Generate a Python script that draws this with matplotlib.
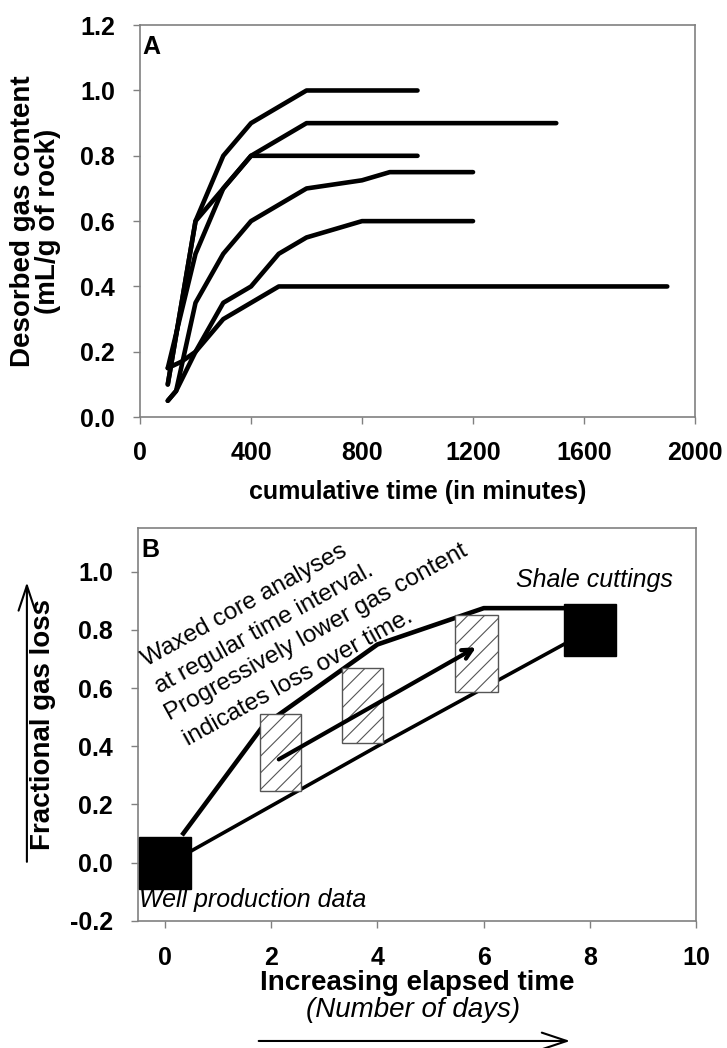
import matplotlib
matplotlib.use("Agg")
import matplotlib.pyplot as plt
from matplotlib.patches import Rectangle, FancyArrowPatch
from matplotlib import font_manager

plt.rcParams['font.family'] = ['Liberation Sans', 'DejaVu Sans']
plt.rcParams['hatch.linewidth'] = 0.8

_names = {f.name for f in font_manager.fontManager.ttflist}
NARROW = 'Liberation Sans Narrow' if 'Liberation Sans Narrow' in _names else 'Liberation Sans'

# ---------------- Panel A data ----------------
a_x1 = [100, 200, 300, 400, 600, 1000]
a_y1 = [0.10, 0.60, 0.80, 0.90, 1.00, 1.00]
a_x2 = [100, 200, 300, 400, 600, 1500]
a_y2 = [0.15, 0.50, 0.70, 0.80, 0.90, 0.90]
a_x3 = [100, 200, 300, 400, 1000]
a_y3 = [0.10, 0.60, 0.70, 0.80, 0.80]
a_x4 = [100, 130, 200, 300, 400, 600, 800, 900, 1200]
a_y4 = [0.05, 0.08, 0.35, 0.50, 0.60, 0.70, 0.725, 0.75, 0.75]
a_x5 = [100, 130, 200, 300, 400, 500, 600, 800, 1200]
a_y5 = [0.05, 0.08, 0.20, 0.35, 0.40, 0.50, 0.55, 0.60, 0.60]
a_x6 = [100, 150, 200, 300, 400, 500, 1900]
a_y6 = [0.15, 0.17, 0.20, 0.30, 0.35, 0.40, 0.40]
a_xticks = [0, 400, 800, 1200, 1600, 2000]
a_yticks = [0.0, 0.2, 0.4, 0.6, 0.8, 1.0, 1.2]

# ---------------- Panel B data ----------------
b_sq_x = [0, 8]
b_sq_y = [0.0, 0.80]
b_upper_x = [0.35, 1.85, 4.0, 6.0, 7.5]
b_upper_y = [0.10, 0.47, 0.75, 0.875, 0.875]
b_lower_x = [0.5, 4.0, 7.5]
b_lower_y = [0.04, 0.40, 0.75]
b_arrow_start = (2.1, 0.35)
b_arrow_end = (5.9, 0.745)
b_box_x = [1.79, 3.33, 5.46]
b_box_y = [0.245, 0.41, 0.585]
b_box_w = [0.78, 0.78, 0.81]
b_box_h = [0.265, 0.26, 0.265]
b_xticks = [0, 2, 4, 6, 8, 10]
b_yticks = [-0.2, 0.0, 0.2, 0.4, 0.6, 0.8, 1.0]

note_lines = ['Waxed core analyses', 'at regular time interval.',
              'Progressively lower gas content', 'indicates loss over time.']
note_x = [1.55, 1.93, 2.90, 2.57]
note_y = [0.866, 0.785, 0.773, 0.618]

fig = plt.figure(figsize=(7.27, 10.48), dpi=100)
axA = fig.add_axes([0.1926, 0.602, 0.7634, 0.374])
axB = fig.add_axes([0.190, 0.1215, 0.768, 0.3745])

spine_col = '#808080'
for ax in (axA, axB):
    for s in ax.spines.values():
        s.set_color(spine_col)
        s.set_linewidth(1.2)
    ax.tick_params(direction='out', length=5, width=1, color=spine_col,
                   top=False, right=False)

# Panel A
for xs, ys in [(a_x1, a_y1), (a_x2, a_y2), (a_x3, a_y3),
               (a_x4, a_y4), (a_x5, a_y5), (a_x6, a_y6)]:
    axA.plot(xs, ys, color='black', lw=3.3, solid_capstyle='round',
             solid_joinstyle='round')
axA.set_xlim(0, 2000)
axA.set_ylim(0, 1.2)
axA.set_xticks(a_xticks)
axA.set_xticklabels([str(v) for v in a_xticks], fontsize=18, fontweight='bold',
                    family=[NARROW, 'DejaVu Sans'])
axA.set_yticks(a_yticks)
axA.set_yticklabels([f"{v:.1f}" for v in a_yticks], fontsize=18, fontweight='bold')
axA.tick_params(axis='x', pad=12)
axA.tick_params(axis='y', pad=13)
axA.set_xlabel('cumulative time (in minutes)', fontsize=18, fontweight='bold',
               labelpad=11)
axA.set_ylabel('Desorbed gas content\n(mL/g of rock)', fontsize=20,
               fontweight='bold', labelpad=14, linespacing=0.95)
axA.text(0.005, 0.975, 'A', transform=axA.transAxes, fontsize=18,
         fontweight='bold', va='top', ha='left')

# Panel B
axB.plot(b_upper_x, b_upper_y, color='black', lw=3.3, solid_joinstyle='round')
axB.plot(b_lower_x, b_lower_y, color='black', lw=2.6, solid_joinstyle='round')
for x0, y0, w, h in zip(b_box_x, b_box_y, b_box_w, b_box_h):
    axB.add_patch(Rectangle((x0, y0), w, h, facecolor='white',
                            edgecolor='#555555', hatch='//', lw=1.0, zorder=3))
axB.annotate('', xy=b_arrow_end, xytext=b_arrow_start,
             arrowprops=dict(arrowstyle='->,head_length=0.7,head_width=0.35',
                             color='black', lw=3), zorder=4)
axB.plot(b_sq_x, b_sq_y, linestyle='none', marker='s', markersize=38,
         color='black', zorder=5)
axB.set_xlim(-0.5, 10)
axB.set_ylim(-0.2, 1.15)
axB.set_xticks(b_xticks)
axB.set_xticklabels([str(v) for v in b_xticks], fontsize=18, fontweight='bold')
axB.set_yticks(b_yticks)
axB.set_yticklabels([f"{v:.1f}" for v in b_yticks], fontsize=18, fontweight='bold')
axB.tick_params(axis='x', pad=13)
axB.tick_params(axis='y', pad=13)
axB.set_xlabel('Increasing elapsed time', fontsize=20, fontweight='bold', labelpad=0)
axB.set_ylabel('Fractional gas loss', fontsize=20, fontweight='bold', labelpad=10)
axB.text(0.005, 0.975, 'B', transform=axB.transAxes, fontsize=18,
         fontweight='bold', va='top', ha='left')

for txt, tx, ty in zip(note_lines, note_x, note_y):
    axB.text(tx, ty, txt, rotation=29, rotation_mode='anchor', ha='center',
             va='baseline', fontsize=17.5, zorder=6)
axB.text(8.08, 0.972, 'Shale cuttings', style='italic', fontsize=18,
         ha='center', va='center')
axB.text(-0.48, -0.13, 'Well production data', style='italic', fontsize=18,
         ha='left', va='center')

fig.text(0.568, 0.036, '(Number of days)', style='italic', fontsize=20,
         ha='center', va='center')

# arrows outside axes
fig.add_artist(FancyArrowPatch(
    (0.037, 0.175), (0.037, 0.447), transform=fig.transFigure,
    arrowstyle='->,head_length=0.9,head_width=0.3', color='black', lw=1.5,
    mutation_scale=20))
fig.add_artist(FancyArrowPatch(
    (0.352, 0.0067), (0.788, 0.0067), transform=fig.transFigure,
    arrowstyle='->,head_length=0.9,head_width=0.3', color='black', lw=1.5,
    mutation_scale=20))

fig.savefig('out.png', dpi=100)
